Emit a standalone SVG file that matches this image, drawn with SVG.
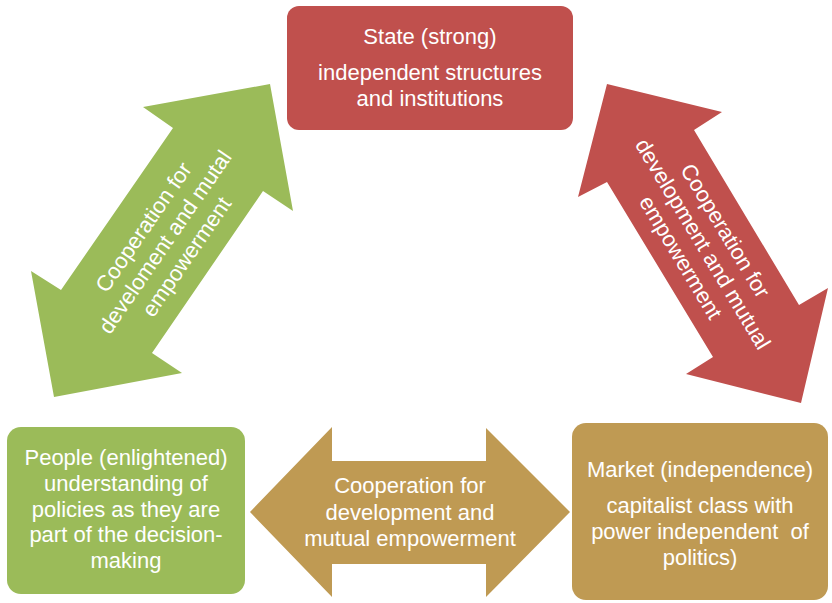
<svg xmlns="http://www.w3.org/2000/svg" width="832" height="603" viewBox="0 0 832 603">
<style>
.t{font-family:"Liberation Sans",Arial,sans-serif;font-size:22px;fill:#ffffff;text-anchor:middle}
.red{fill:#C0504D}
.green{fill:#9BBB59}
.tan{fill:#BF9A53}
</style>
<rect width="832" height="603" fill="#ffffff"/>
<g id="connectors">
<g id="arrow-people-state">
<polygon class="green" points="270,84 293,211 263,191 152,353 182,373 54,397 31,271 61,290 173,128 143,107"/>
<g transform="translate(165,242) rotate(-55.5)">
<text class="t" x="0" y="-18.5">Cooperation for</text>
<text class="t" x="0" y="7.5">develoment and mutal</text>
<text class="t" x="0" y="33.5">empowerment</text>
</g>
</g>
<g id="arrow-state-market">
<polygon class="red" points="607,84 722,112 694,130 799,305 828,288 801,403 686,374 713,357 607,182 578,197"/>
<g transform="translate(703,244) rotate(59)">
<text class="t" x="0" y="-18.5">Cooperation for</text>
<text class="t" x="0" y="7.5">development and mutual</text>
<text class="t" x="0" y="33.5">empowerment</text>
</g>
</g>
<g id="arrow-people-market">
<polygon class="tan" points="250,512 332,427 332,461 486,461 486,428 570,512 486,597 486,564 332,564 332,597"/>
<text class="t" x="410" y="493">Cooperation for</text>
<text class="t" x="410" y="520">development and</text>
<text class="t" x="410" y="546">mutual empowerment</text>
</g>
</g>
<g id="node-state">
<rect class="red" x="287" y="6" width="286" height="124" rx="12"/>
<text class="t" x="430" y="44">State (strong)</text>
<text class="t" x="430" y="80">independent structures</text>
<text class="t" x="430" y="106">and institutions</text>
</g>
<g id="node-people">
<rect class="green" x="7" y="427" width="238" height="167" rx="14"/>
<text class="t" x="126" y="465">People (enlightened)</text>
<text class="t" x="126" y="491">understanding of</text>
<text class="t" x="126" y="517">policies as they are</text>
<text class="t" x="126" y="542">part of the decision-</text>
<text class="t" x="126" y="568">making</text>
</g>
<g id="node-market">
<rect class="tan" x="572" y="423" width="256" height="177" rx="14"/>
<text class="t" x="700" y="477">Market (independence)</text>
<text class="t" x="700" y="513">capitalist class with</text>
<text class="t" x="700" y="539" style="white-space:pre" xml:space="preserve">power independent  of</text>
<text class="t" x="700" y="565">politics)</text>
</g>
</svg>
